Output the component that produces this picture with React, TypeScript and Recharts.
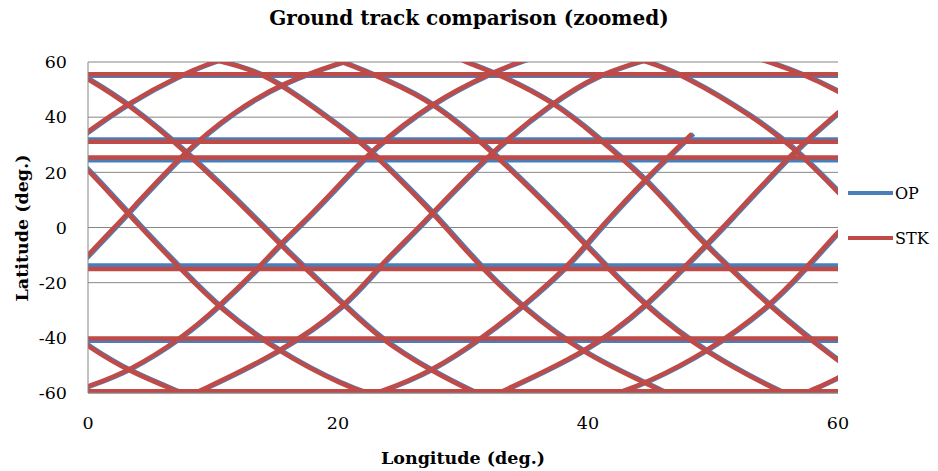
import { LineChart, Line, XAxis, YAxis, CartesianGrid } from "recharts";

const xTicks = [0, 20, 40, 60];
const yTicks = [-60, -40, -20, 0, 20, 40, 60];

// latitude samples along each visible arc of the track (deg.)
// A1..A8 are northbound arcs, D1..D8 southbound
const arcLat: number[][] = [
  [24.5, 34.9, 45.2, 54.9, 60.4, 62.5],
  [-19.5, -10, 0, 5.3, 27.9, 41.5, 52.5, 60.4, 62],
  [-61, -57.6, -52.2, -40.1, -28.9, -14.8, -6.3, 0, 14, 27.9, 45.4, 56.4, 60.4, 62],
  [-64, -60, -45.5, -28.7, -14.3, 0, 27.9, 45.6, 55, 60.4, 62.5],
  [-63, -60, -52.2, -40.1, -28.9, -14.8, -6.4, 0, 17.7, 33.9],
  [-64, -60, -45.5, -28.9, -6.4, 0, 28.5, 41.7, 49],
  [-63, -60, -56.4, -45.5, -28.8, -14.3, -1.6, 3],
  [-63, -60, -54.8, -49],
  [59, 53.8, 45.5, 27.9, 0, -5.8, -28.7, -40.1, -52.2, -60, -63],
  [29.5, 21, 0, -15.45, -28.9, -45.5, -57.6, -60.5, -62.5],
  [-36.5, -43.1, -52.2, -60, -63],
  [62, 60.4, 57.4, 51.9, 35.1, 27.9, 5.6, 0, -14.8, -28.9, -45.5, -56.4, -60, -62.5],
  [62, 60.4, 53.4, 45.4, 27.9, 0, -6.4, -28.9, -45.5, -60, -62.5],
  [62.5, 60, 56.4, 45.6, 33.3, 17.7, 0, -6.4, -28.8, -48.5, -53],
  [62, 60.4, 54.9, 40.5, 28.5, 12.8, 8],
  [62, 60.3, 55.5, 49.5, 44],
];

// longitudes of those samples, STK run
const stkArcLon: number[][] = [
  [-3, 0, 3.25, 7.2, 10.2, 12],
  [-2, 0, 2.1, 3.2, 7.8, 11.5, 15.5, 20.6, 22],
  [-2, 0, 3.25, 7.5, 10.4, 13.6, 15.3, 16.8, 19.8, 22.6, 27.5, 32.4, 34.7, 36],
  [6.5, 8.6, 15.3, 20.6, 23.2, 26.5, 32.3, 37.25, 40.6, 44.3, 46],
  [20.5, 23.25, 27.5, 31.5, 34.7, 38.2, 39.8, 41, 44.6, 48.3],
  [31, 32.8, 39.8, 44.6, 49.4, 50.8, 56.6, 60, 62],
  [40.5, 42.4, 44.6, 49.4, 54.5, 57.5, 60, 61],
  [56, 57.3, 60, 62],
  [-2, 0, 3.0, 7.8, 14.1, 15.25, 20.6, 23.25, 27.5, 31, 32.5],
  [-2, 0, 4.2, 7.5, 10.4, 15.3, 20.6, 22.6, 24],
  [-2, 0, 3.25, 7.5, 9],
  [9, 10.45, 13, 15.5, 20.6, 22.6, 27.5, 28.6, 31.5, 34.7, 39.5, 44.6, 46.2, 47.6],
  [18.8, 20.2, 23.9, 27.6, 32.3, 38.5, 39.8, 44.6, 49.4, 55.5, 57],
  [29.3, 30.05, 32.45, 37.25, 40.6, 44.6, 48.05, 49.4, 54.5, 60, 61.5],
  [43, 44.6, 47.8, 53.1, 56.6, 60, 61],
  [53, 54.3, 57.25, 60, 62],
];

// longitudes of those samples, OP run (sits a touch east of STK)
const opArcLon: number[][] = [
  [-2.85, 0.15, 3.4, 7.35, 10.35, 12.15],
  [-1.85, 0.15, 2.25, 3.35, 7.95, 11.65, 15.65, 20.75, 22.15],
  [-1.85, 0.15, 3.4, 7.65, 10.55, 13.75, 15.45, 16.95, 19.95, 22.75, 27.65, 32.55, 34.85, 36.15],
  [6.65, 8.75, 15.45, 20.75, 23.35, 26.65, 32.45, 37.4, 40.75, 44.45, 46.15],
  [20.65, 23.4, 27.65, 31.65, 34.85, 38.35, 39.95, 41.15, 44.75, 48.45],
  [31.15, 32.95, 39.95, 44.75, 49.55, 50.95, 56.75, 60.15, 62.15],
  [40.65, 42.55, 44.75, 49.55, 54.65, 57.65, 60.15, 61.15],
  [56.15, 57.45, 60.15, 62.15],
  [-1.85, 0.15, 3.15, 7.95, 14.25, 15.4, 20.75, 23.4, 27.65, 31.15, 32.65],
  [-1.85, 0.15, 4.35, 7.65, 10.55, 15.45, 20.75, 22.75, 24.15],
  [-1.85, 0.15, 3.4, 7.65, 9.15],
  [9.15, 10.6, 13.15, 15.65, 20.75, 22.75, 27.65, 28.75, 31.65, 34.85, 39.65, 44.75, 46.35, 47.75],
  [18.95, 20.35, 24.05, 27.75, 32.45, 38.65, 39.95, 44.75, 49.55, 55.65, 57.15],
  [29.45, 30.2, 32.6, 37.4, 40.75, 44.75, 48.2, 49.55, 54.65, 60.15, 61.65],
  [43.15, 44.75, 47.95, 53.25, 56.75, 60.15, 61.15],
  [53.15, 54.45, 57.4, 60.15, 62.15],
];

// date-line jumps (180 -> -180) show up as flat lines across the plot
const wrapLon = [-180, 180];
const stkWrapLat = [55.6, 31.1, 25.4, -15.0, -40.2, -59.4];
const opWrapLat = [55.0, 31.9, 24.4, -13.8, -41.1, -59.9];

const series = [
  { name: "OP", color: "#4A7EBB", arcLon: opArcLon, wrapLat: opWrapLat },
  { name: "STK", color: "#BE4B48", arcLon: stkArcLon, wrapLat: stkWrapLat },
];

const FONT = "'DejaVu Serif', serif";

export default function App() {
  const lines: JSX.Element[] = [];
  series.forEach((s) => {
    s.wrapLat.forEach((lat, i) => {
      lines.push(
        <Line
          key={`${s.name}-w${i}`}
          data={wrapLon.map((lon) => ({ lon, lat }))}
          dataKey="lat"
          type="linear"
          stroke={s.color}
          strokeWidth={4.5}
          dot={false}
          activeDot={false}
          legendType="none"
          isAnimationActive={false}
        />
      );
    });
    arcLat.forEach((lats, i) => {
      lines.push(
        <Line
          key={`${s.name}-a${i}`}
          data={lats.map((lat, j) => ({ lon: s.arcLon[i][j], lat }))}
          dataKey="lat"
          type="basis"
          stroke={s.color}
          strokeWidth={4.5}
          strokeLinejoin="round"
          dot={false}
          activeDot={false}
          legendType="none"
          isAnimationActive={false}
        />
      );
    });
  });

  return (
    <div style={{ position: "relative", width: 930, height: 463, fontFamily: FONT }}>
      <LineChart width={930} height={463} margin={{ top: 54, right: 100, bottom: 48, left: 0 }}>
        <CartesianGrid vertical={false} stroke="#868686" strokeWidth={1} />
        <XAxis
          dataKey="lon"
          type="number"
          domain={[0, 60]}
          ticks={xTicks}
          allowDataOverflow
          height={30}
          tickLine={false}
          tickMargin={18}
          axisLine={{ stroke: "#868686" }}
          tick={{ fontFamily: FONT, fontSize: 17.5, fill: "#000" }}
        />
        <YAxis
          type="number"
          domain={[-60, 60]}
          ticks={yTicks}
          allowDataOverflow
          width={80}
          tickLine={false}
          tickMargin={15}
          axisLine={{ stroke: "#868686" }}
          tick={{ fontFamily: FONT, fontSize: 17.5, fill: "#000" }}
        />
        {lines}
      </LineChart>

      <div
        style={{
          position: "absolute",
          top: 0,
          left: 0,
          width: 922,
          textAlign: "center",
          fontWeight: "bold",
          fontSize: 20,
          lineHeight: "20px",
        }}
      >
        Ground track comparison (zoomed)
      </div>
      <div
        style={{
          position: "absolute",
          top: 441,
          left: 0,
          width: 910,
          textAlign: "center",
          fontWeight: "bold",
          fontSize: 17.5,
          lineHeight: "18px",
        }}
      >
        Longitude (deg.)
      </div>
      <div
        style={{
          position: "absolute",
          top: 220,
          left: 14,
          transform: "translate(-50%, -50%) rotate(-90deg)",
          whiteSpace: "nowrap",
          fontWeight: "bold",
          fontSize: 17.5,
          lineHeight: "18px",
        }}
      >
        Latitude (deg.)
      </div>
      {series.map((s, i) => (
        <div
          key={s.name}
          style={{
            position: "absolute",
            left: 840,
            top: 185 + i * 45 - 10,
            width: 90,
            height: 20,
            display: "flex",
            alignItems: "center",
            whiteSpace: "nowrap",
            fontSize: 16,
          }}
        >
          <div style={{ width: 45, height: 4.5, flexShrink: 0, background: s.color, marginRight: 2 }} />
          <span>{s.name}</span>
        </div>
      ))}
    </div>
  );
}
